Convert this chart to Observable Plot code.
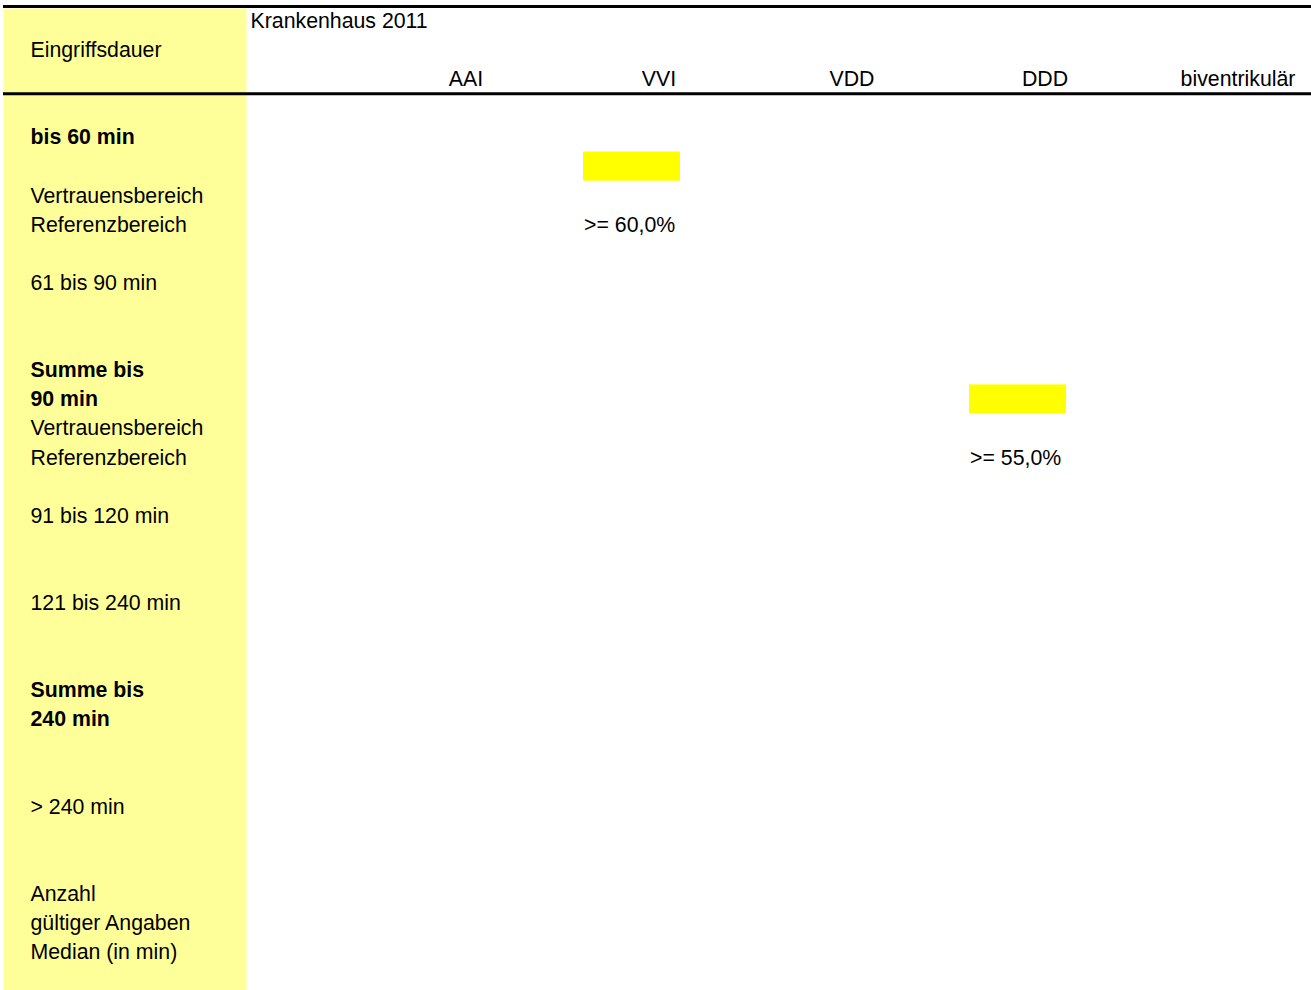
<!DOCTYPE html>
<html>
<head>
<meta charset="utf-8">
<script src="https://cdn.jsdelivr.net/npm/d3@7"></script>
<script src="https://cdn.jsdelivr.net/npm/@observablehq/plot@0.6"></script>
<style>
  html, body { margin: 0; padding: 0; background: #fff; }
  #chart svg { display: block; }
</style>
</head>
<body>
<div id="chart"></div>
<script>
// --- data ---
const tableTitle = "Eingriffsdauer";
const hospitalHeader = "Krankenhaus 2011";
const columns = ["AAI", "VVI", "VDD", "DDD", "biventrikulär"];
// one entry per text line of the table; "" = blank line
const rowLines = [
  "bis 60 min", "", "Vertrauensbereich", "Referenzbereich", "",
  "61 bis 90 min", "", "",
  "Summe bis", "90 min", "Vertrauensbereich", "Referenzbereich", "",
  "91 bis 120 min", "", "",
  "121 bis 240 min", "", "",
  "Summe bis", "240 min", "", "",
  "> 240 min", "", "",
  "Anzahl", "gültiger Angaben", "Median (in min)"
];
const boldLines = ["bis 60 min", "Summe bis", "90 min", "240 min"];
// reference ranges: which Referenzbereich block, which column
const refBlocks = [0, 1];
const refColumns = ["VVI", "DDD"];
const refTexts = [">= 60,0%", ">= 55,0%"];

// --- derived tables ---
const lines = rowLines.map((text, i) => ({i, text, bold: boldLines.includes(text)})).filter(d => d.text !== "");
const refLineIdx = rowLines.map((t, i) => t === "Referenzbereich" ? i : -1).filter(i => i >= 0);
const refs = refBlocks.map((b, k) => ({
  column: refColumns[k],
  text: refTexts[k],
  refLine: refLineIdx[b],
  valueLine: refLineIdx[b] - 2
}));
const colHeaders = columns.map(c => ({c}));

const font = "'Liberation Sans', Arial, Helvetica, sans-serif";
const fs = 21.3;

const chart = Plot.plot({
  width: 1311,
  height: 990,
  margin: 0,
  style: {fontFamily: font, fontSize: fs + "px", background: "#fff", color: "#000"},
  x: {type: "band", domain: columns, range: [368.5, 1333.5], padding: 0, axis: null},
  y: {type: "linear", domain: [0, 28], range: [137, 952], axis: null},
  marks: [
    // yellow label panel
    Plot.frame({fill: "#ffff99", stroke: "none", insetLeft: 3, insetRight: 1065, insetTop: 8}),
    // header rules
    Plot.ruleY([-4.5, -1.5], {stroke: "#000", strokeWidth: 3, insetLeft: 3}),
    // header texts
    Plot.text([tableTitle], {text: d => d, y: -3, frameAnchor: "left", dx: 30, textAnchor: "start", fontSize: fs}),
    Plot.text([hospitalHeader], {text: d => d, y: -4, frameAnchor: "left", dx: 250, textAnchor: "start", fontSize: fs}),
    Plot.text(colHeaders, {x: "c", y: -2, text: "c", textAnchor: "middle", fontSize: fs}),
    // row labels
    Plot.text(lines.filter(d => !d.bold), {y: "i", text: "text", frameAnchor: "left", dx: 30, textAnchor: "start", fontSize: fs}),
    Plot.text(lines.filter(d => d.bold), {y: "i", text: "text", frameAnchor: "left", dx: 30, textAnchor: "start", fontSize: fs, fontWeight: "bold"}),
    // highlighted result cells
    Plot.barY(refs, {x: "column", y1: d => d.valueLine - 0.5, y2: d => d.valueLine + 0.5, fill: "#ffff00", insetLeft: 21, insetRight: 75}),
    // reference range texts
    Plot.text(refs, {x: "column", y: "refLine", text: "text", textAnchor: "start", dx: -75, fontSize: fs})
  ]
});
document.getElementById("chart").appendChild(chart);
</script>
</body>
</html>
